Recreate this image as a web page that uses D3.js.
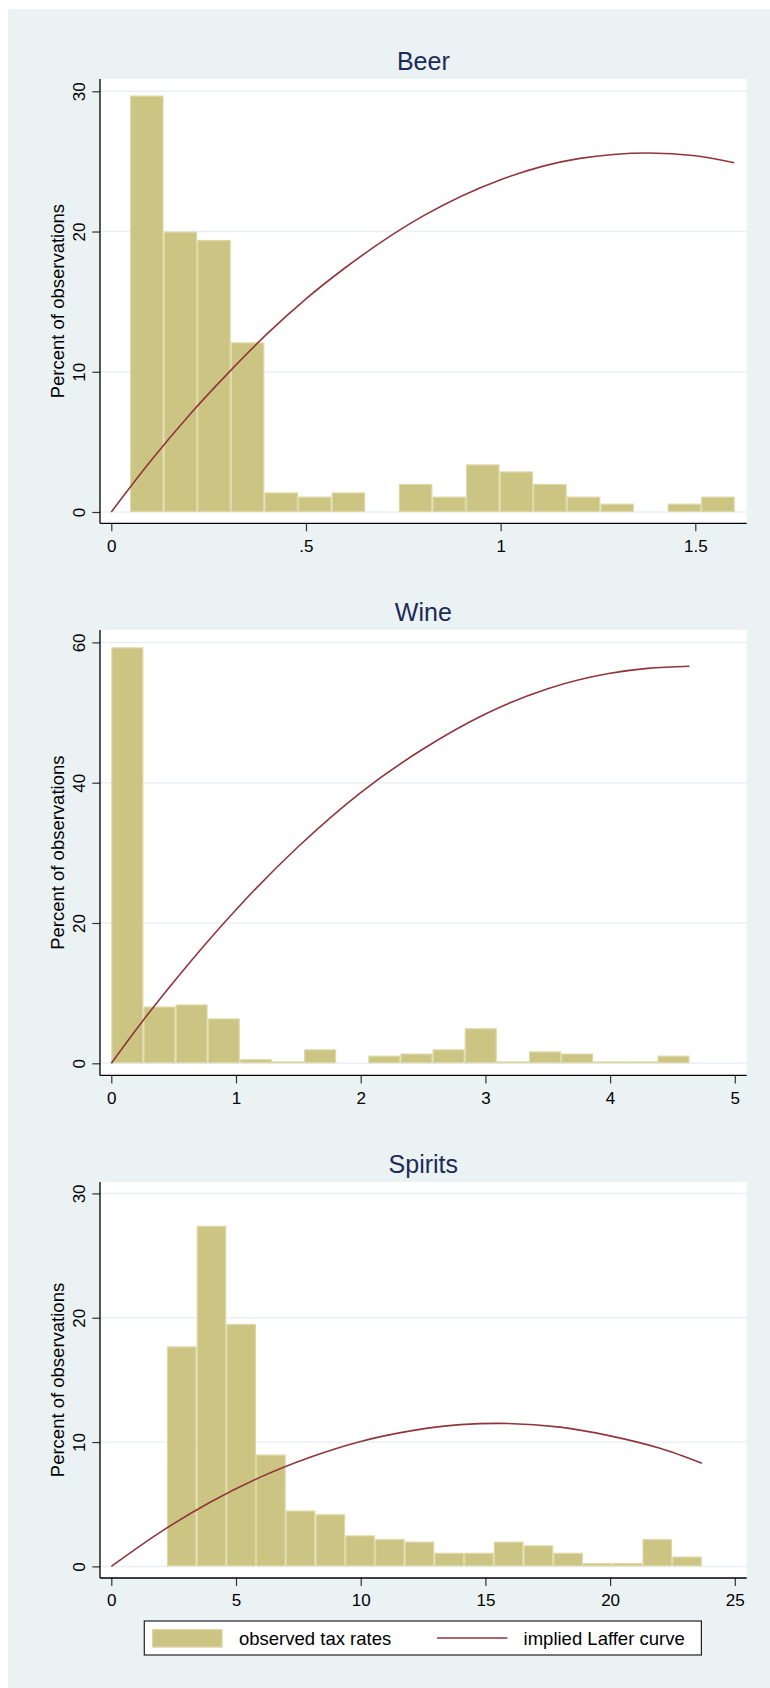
<!DOCTYPE html>
<html>
<head>
<meta charset="utf-8">
<script src="https://cdn.jsdelivr.net/npm/d3@7"></script>
<style>
  html, body { margin: 0; padding: 0; background: #ffffff; }
  svg { display: block; }
  text { font-family: "Liberation Sans", Arial, Helvetica, sans-serif; }
</style>
</head>
<body>
<svg id="chart" width="770" height="1688"></svg>
<script>
// ---------- DATA ----------
const panelTitles = ["Beer", "Wine", "Spirits"];

// Histogram bins: start of first bin, common bin width, percent per bin
const beerBinStart = 0.048, beerBinWidth = 0.0863;
const beerPct = [29.7, 20.0, 19.4, 12.1, 1.4, 1.1, 1.4, 0, 2.0, 1.1, 3.4, 2.9, 2.0, 1.1, 0.6, 0, 0.6, 1.1];

const wineBinStart = 0, wineBinWidth = 0.2576;
const winePct = [59.3, 8.1, 8.4, 6.4, 0.6, 0.28, 2.0, 0, 1.1, 1.4, 2.0, 5.0, 0.28, 1.7, 1.4, 0.28, 0.28, 1.1];

const spiritsBinStart = 2.228, spiritsBinWidth = 1.1917;
const spiritsPct = [17.7, 27.4, 19.5, 9.0, 4.5, 4.2, 2.5, 2.2, 2.0, 1.1, 1.1, 2.0, 1.7, 1.1, 0.28, 0.28, 2.2, 0.8];

// Implied Laffer curve points [tax rate, percent]
const beerCurve = [[0,0],[0.1,3.6],[0.2,6.9],[0.3,9.9],[0.4,12.7],[0.5,15.2],[0.6,17.4],[0.8,21.1],[1.0,23.7],[1.2,25.2],[1.38,25.6],[1.5,25.4],[1.6,24.9]];
const wineCurve = [[0,0],[0.25,6.0],[0.5,11.6],[1.0,21.9],[1.5,30.9],[2.0,38.6],[2.5,44.8],[3.0,49.8],[3.5,53.4],[4.0,55.6],[4.3,56.3],[4.637,56.6]];
const spiritsCurve = [[0,0],[2,2.8],[4,5.2],[6,7.2],[8,8.8],[10,10.05],[12,10.9],[14,11.4],[15.5,11.5],[18,11.2],[20,10.5],[22,9.5],[23.68,8.3]];

// Axis ticks
const beerXTicks = [0, 0.5, 1, 1.5], beerXLabels = ["0", ".5", "1", "1.5"];
const beerYTicks = [0, 10, 20, 30];
const wineXTicks = [0, 1, 2, 3, 4, 5], wineXLabels = ["0", "1", "2", "3", "4", "5"];
const wineYTicks = [0, 20, 40, 60];
const spiritsXTicks = [0, 5, 10, 15, 20, 25], spiritsXLabels = ["0", "5", "10", "15", "20", "25"];
const spiritsYTicks = [0, 10, 20, 30];

const yTitle = "Percent of observations";
const legendLabels = ["observed tax rates", "implied Laffer curve"];

// ---------- STYLE / LAYOUT ----------
const C = {
  bg: "#eaf2f3", grid: "#eaf0f3", bar: "#ccc483", barEdge: "#ddd8a6",
  curve: "#90353b", title: "#1c2b57", axis: "#000000", tick: "#333333"
};

const panels = [
  { title: panelTitles[0], start: beerBinStart, width: beerBinWidth, pct: beerPct, curve: beerCurve,
    xt: beerXTicks, xl: beerXLabels, yt: beerYTicks,
    xDom: [0, 1.5], xRng: [111.3, 695.3], yDom: [0, 30], yRng: [512, 91.3], top: 79, bottom: 523.3 },
  { title: panelTitles[1], start: wineBinStart, width: wineBinWidth, pct: winePct, curve: wineCurve,
    xt: wineXTicks, xl: wineXLabels, yt: wineYTicks,
    xDom: [0, 5], xRng: [111.3, 734.8], yDom: [0, 60], yRng: [1063.3, 642.4], top: 630, bottom: 1075.4 },
  { title: panelTitles[2], start: spiritsBinStart, width: spiritsBinWidth, pct: spiritsPct, curve: spiritsCurve,
    xt: spiritsXTicks, xl: spiritsXLabels, yt: spiritsYTicks,
    xDom: [0, 25], xRng: [111.3, 734.8], yDom: [0, 30], yRng: [1566.4, 1193.4], top: 1182, bottom: 1578 }
];

const plotLeft = 100, plotRight = 746.7;

const svg = d3.select("#chart");

// outer graph region
svg.append("rect").attr("x", 8).attr("y", 9.3).attr("width", 770 - 8).attr("height", 1688 - 9.3).attr("fill", C.bg);

panels.forEach(p => {
  const x = d3.scaleLinear().domain(p.xDom).range(p.xRng);
  const y = d3.scaleLinear().domain(p.yDom).range(p.yRng);
  const g = svg.append("g");

  // plot region
  g.append("rect").attr("x", plotLeft).attr("y", p.top)
    .attr("width", plotRight - plotLeft).attr("height", p.bottom - p.top).attr("fill", "#ffffff");

  // gridlines
  g.selectAll(".grid").data(p.yt).enter().append("line")
    .attr("x1", plotLeft).attr("x2", plotRight)
    .attr("y1", d => y(d)).attr("y2", d => y(d))
    .attr("stroke", C.grid).attr("stroke-width", 1.5);

  // bars
  const bins = p.pct.map((v, i) => ({ x0: p.start + i * p.width, x1: p.start + (i + 1) * p.width, v }));
  g.selectAll(".bar").data(bins.filter(b => b.v > 0)).enter().append("rect")
    .attr("x", d => x(d.x0) + 0.6)
    .attr("y", d => y(d.v) + 0.6)
    .attr("width", d => x(d.x1) - x(d.x0) - 1.2)
    .attr("height", d => Math.max(0, y(0) - y(d.v) - 1.2))
    .attr("fill", C.bar).attr("stroke", C.barEdge).attr("stroke-width", 1.2);

  // curve
  const line = d3.line().x(d => x(d[0])).y(d => y(d[1])).curve(d3.curveMonotoneX);
  g.append("path").datum(p.curve).attr("d", line)
    .attr("fill", "none").attr("stroke", C.curve).attr("stroke-width", 1.6);

  // x axis
  const xAxis = d3.axisBottom(x).tickValues(p.xt).tickFormat((d, i) => p.xl[i]).tickSize(8).tickSizeOuter(0);
  const gx = g.append("g").attr("transform", `translate(0,${p.bottom})`).call(xAxis);
  gx.select(".domain").remove();
  gx.selectAll(".tick line").attr("stroke", C.tick).attr("stroke-width", 1.2);
  gx.selectAll(".tick text").attr("y", 28.4).attr("dy", 0)
    .attr("font-size", 17).attr("fill", "#000").style("font-family", '"Liberation Sans", Arial, sans-serif');

  // y axis
  const yAxis = d3.axisLeft(y).tickValues(p.yt).tickFormat(d3.format("d")).tickSize(7.7).tickSizeOuter(0);
  const gy = g.append("g").attr("transform", `translate(${plotLeft},0)`).call(yAxis);
  gy.select(".domain").remove();
  gy.selectAll(".tick line").attr("stroke", C.tick).attr("stroke-width", 1.2);
  gy.selectAll(".tick text").attr("x", 0).attr("y", 0).attr("dy", 0)
    .attr("text-anchor", "middle").attr("transform", "translate(-15.5,0) rotate(-90)")
    .attr("font-size", 17).attr("fill", "#000").style("font-family", '"Liberation Sans", Arial, sans-serif');

  // axis lines
  g.append("line").attr("x1", plotLeft).attr("x2", plotLeft).attr("y1", p.top).attr("y2", p.bottom)
    .attr("stroke", C.axis).attr("stroke-width", 1.3);
  g.append("line").attr("x1", plotLeft).attr("x2", plotRight).attr("y1", p.bottom).attr("y2", p.bottom)
    .attr("stroke", C.axis).attr("stroke-width", 1.3);

  // y title
  const cy = (p.top + p.bottom) / 2;
  g.append("text").attr("transform", `translate(64,${cy}) rotate(-90)`)
    .attr("text-anchor", "middle").attr("font-size", 18.5).attr("fill", "#000").text(yTitle);

  // panel title
  g.append("text").attr("x", (plotLeft + plotRight) / 2).attr("y", p.top - 9)
    .attr("text-anchor", "middle").attr("font-size", 25).attr("fill", C.title).text(p.title);
});

// legend
const lg = svg.append("g");
lg.append("rect").attr("x", 144.3).attr("y", 1621).attr("width", 701.4 - 144.3).attr("height", 34)
  .attr("fill", "#ffffff").attr("stroke", "#222").attr("stroke-width", 1.2);
lg.append("rect").attr("x", 152.6).attr("y", 1629.6).attr("width", 69.5).attr("height", 17.5)
  .attr("fill", C.bar).attr("stroke", C.barEdge).attr("stroke-width", 1.2);
lg.append("text").attr("x", 239).attr("y", 1645).attr("font-size", 18.5).attr("fill", "#000").text(legendLabels[0]);
lg.append("line").attr("x1", 437).attr("x2", 507.4).attr("y1", 1638).attr("y2", 1638)
  .attr("stroke", C.curve).attr("stroke-width", 1.6);
lg.append("text").attr("x", 523.6).attr("y", 1645).attr("font-size", 18.5).attr("fill", "#000").text(legendLabels[1]);
</script>
</body>
</html>
